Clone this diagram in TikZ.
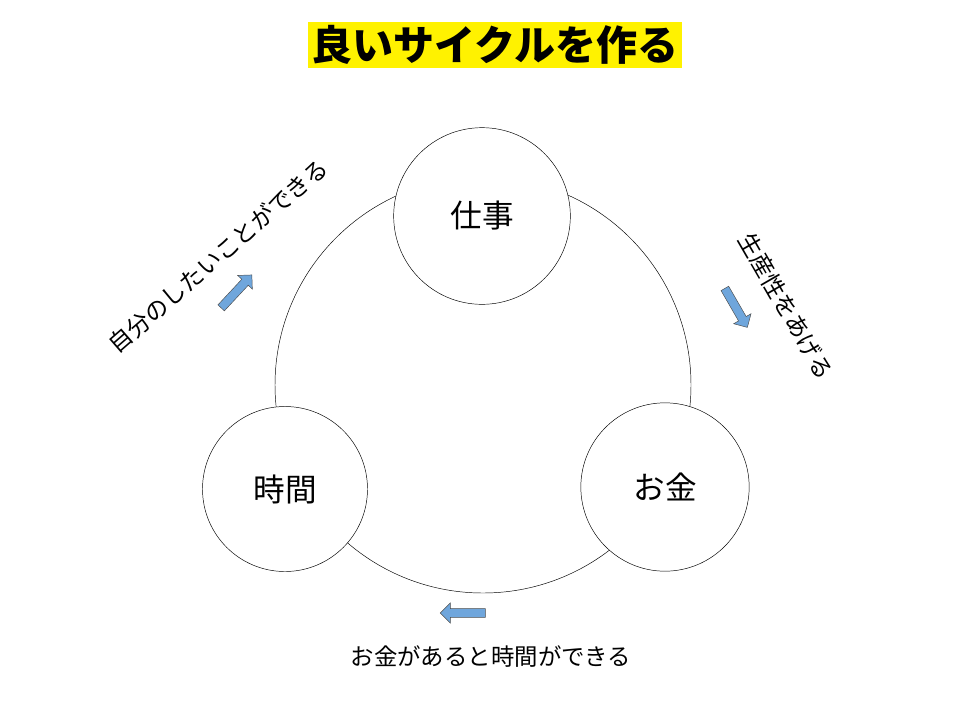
\documentclass[tikz,border=0pt]{standalone}
\usepackage{fontspec}
\newfontfamily\jp{Noto Sans CJK JP}
\usetikzlibrary{shapes.arrows}
\definecolor{arrowblue}{HTML}{6FA6DC}
\begin{document}
\begin{tikzpicture}[x=0.03cm,y=-0.03cm]
\tikzstyle{topic}=[draw,circle,fill=white,inner sep=0pt,font=\jp\fontsize{27}{27}\selectfont]
\tikzstyle{flow}=[draw=black!70,fill=arrowblue,single arrow,minimum height=1.35cm,minimum width=0.6cm,single arrow head extend=0.06cm,inner sep=0.04cm]
\tikzstyle{note}=[font=\jp\fontsize{20}{20}\selectfont]
\useasboundingbox (0,0) rectangle (960,720);

\node[fill=yellow,inner sep=3pt,font=\jp\bfseries\fontsize{35}{35}\selectfont] at (495,45) (title) {良いサイクルを作る};

\draw (483,385) circle[radius=208];
\node[topic,minimum size=5.3cm] at (482,216) (job) {仕事};
\node[topic,minimum size=4.95cm] at (285,489) (time) {時間};
\node[topic,minimum size=5.05cm] at (665,487) (money) {お金};

\node[flow,rotate=47] at (235,293) (a1) {};
\node[flow,rotate=-60] at (735,306) (a2) {};
\node[flow,rotate=180] at (465,613) (a3) {};

\node[note,rotate=41] at (218,256) (t1) {自分のしたいことができる};
\node[note,rotate=-60] at (786,306) (t2) {生産性をあげる};
\node[note] at (491,657) (t3) {お金があると時間ができる};
\end{tikzpicture}
\end{document}
